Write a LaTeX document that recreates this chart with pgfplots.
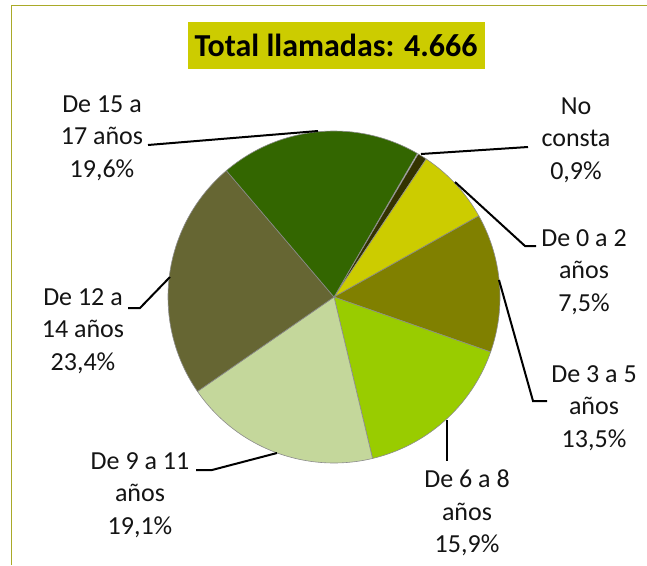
\documentclass[border=0pt]{standalone}
\usepackage{pgfplots}
\pgfplotsset{compat=1.18}
\usepackage{fontspec}
\setmainfont{Carlito}
\definecolor{cNo}{HTML}{333300}
\definecolor{cA}{HTML}{CCCC00}
\definecolor{cB}{HTML}{808000}
\definecolor{cC}{HTML}{99CC00}
\definecolor{cD}{HTML}{C4D79B}
\definecolor{cE}{HTML}{666633}
\definecolor{cF}{HTML}{336600}
\definecolor{frame}{RGB}{170,170,40}
\definecolor{txt}{HTML}{141414}
% percentages (clockwise from the first slice)
\def\pNo{0.9}\def\pA{7.5}\def\pB{13.5}\def\pC{15.9}\def\pD{19.1}\def\pE{23.4}\def\pF{19.6}
\def\start{59.5}
\pgfmathsetmacro\aA{\start-3.6*\pNo}
\pgfmathsetmacro\aB{\aA-3.6*\pA}
\pgfmathsetmacro\aC{\aB-3.6*\pB}
\pgfmathsetmacro\aD{\aC-3.6*\pC}
\pgfmathsetmacro\aE{\aD-3.6*\pD}
\pgfmathsetmacro\aF{\aE-3.6*\pE}
\pgfmathsetmacro\aG{\aF-3.6*\pF}
\begin{document}
\begin{tikzpicture}
\path[use as bounding box] (0pt,0pt) rectangle (647pt,565pt);
\begin{axis}[
  at={(0pt,0pt)}, anchor=south west,
  x=1pt, y=1pt, xmin=0, xmax=647, ymin=0, ymax=565,
  y dir=reverse, hide axis, clip=false, scale only axis,
  samples=60,
  every axis plot/.append style={line width=0.6pt, draw=black!45},
]
\addplot[fill=cNo, domain=\aA:\start] ({334+166*cos(x)},{297-166*sin(x)}) -- (axis cs:334,297) -- cycle;
\addplot[fill=cA, domain=\aB:\aA] ({334+166*cos(x)},{297-166*sin(x)}) -- (axis cs:334,297) -- cycle;
\addplot[fill=cB, domain=\aC:\aB] ({334+166*cos(x)},{297-166*sin(x)}) -- (axis cs:334,297) -- cycle;
\addplot[fill=cC, domain=\aD:\aC] ({334+166*cos(x)},{297-166*sin(x)}) -- (axis cs:334,297) -- cycle;
\addplot[fill=cD, domain=\aE:\aD] ({334+166*cos(x)},{297-166*sin(x)}) -- (axis cs:334,297) -- cycle;
\addplot[fill=cE, domain=\aF:\aE] ({334+166*cos(x)},{297-166*sin(x)}) -- (axis cs:334,297) -- cycle;
\addplot[fill=cF, domain=\aG:\aF] ({334+166*cos(x)},{297-166*sin(x)}) -- (axis cs:334,297) -- cycle;
% leader lines
\addplot[draw=black, line width=2pt] coordinates {(421,154) (528,147)};
\addplot[draw=black, line width=2pt] coordinates {(455,182) (525,246) (536,246)};
\addplot[draw=black, line width=2pt] coordinates {(499,280) (533,401) (547,401)};
\addplot[draw=black, line width=2pt] coordinates {(447,420) (447,461)};
\addplot[draw=black, line width=2pt] coordinates {(277,453) (212,470) (196,470)};
\addplot[draw=black, line width=2pt] coordinates {(170,277) (140,308) (128,308)};
\addplot[draw=black, line width=2pt] coordinates {(318,131) (148,145)};
% labels
\begin{scope}[every node/.style={align=center, inner sep=0pt, text=txt, font=\fontsize{26}{32.5}\selectfont}]
\node at (axis cs:576,140) {No\\consta\\0,9\%};
\node at (axis cs:584,272) {De 0 a 2\\años\\7,5\%};
\node at (axis cs:594,408) {De 3 a 5\\años\\13,5\%};
\node at (axis cs:467,513) {De 6 a 8\\años\\15,9\%};
\node at (axis cs:140,495) {De 9 a 11\\años\\19,1\%};
\node at (axis cs:83,331) {De 12 a\\14 años\\23,4\%};
\node at (axis cs:102,138) {De 15 a\\17 años\\19,6\%};
\end{scope}
\node[fill=cA, inner sep=0pt, minimum width=297pt, minimum height=47pt, font=\fontsize{32}{38}\selectfont\bfseries, text=black] at (axis cs:336,45) {Total llamadas: 4.666};
\end{axis}
\draw[frame, line width=1.8pt] (11.5pt,0pt) -- (11.5pt,559.5pt) -- (647pt,559.5pt);
\end{tikzpicture}
\end{document}
